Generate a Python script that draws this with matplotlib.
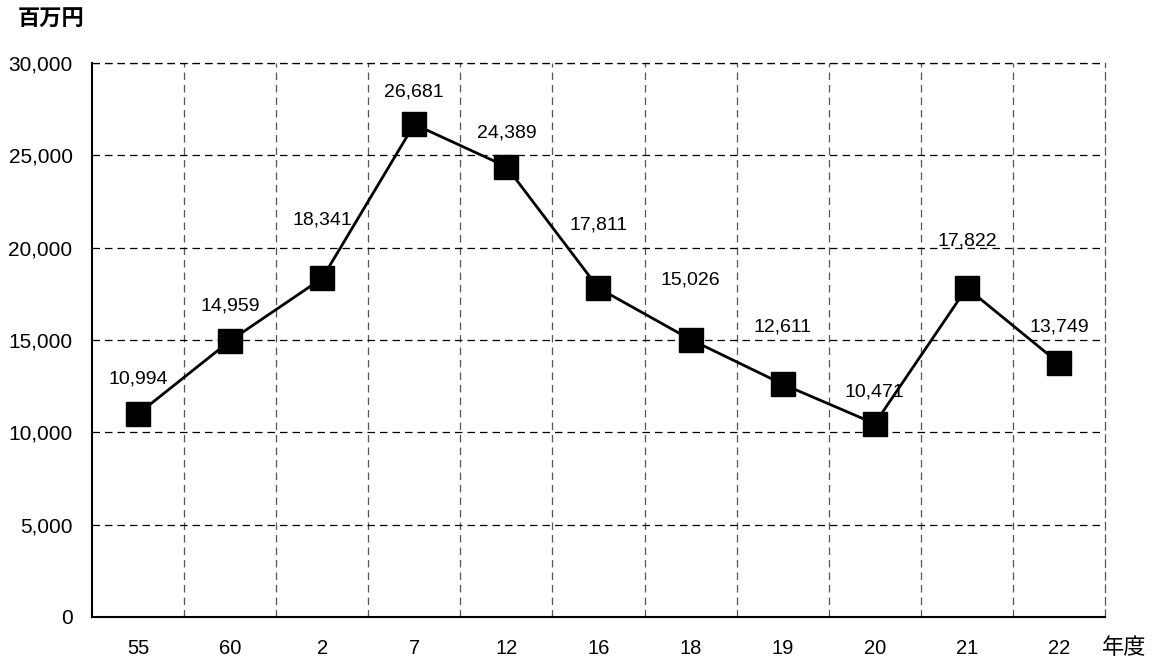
import numpy as np
import matplotlib.pyplot as plt
from matplotlib.ticker import FuncFormatter

plt.rcParams['font.family'] = ['Liberation Sans', 'Noto Sans CJK JP']

years = ['55', '60', '2', '7', '12', '16', '18', '19', '20', '21', '22']
values = [10994, 14959, 18341, 26681, 24389, 17811, 15026, 12611, 10471, 17822, 13749]
# label offsets above the markers, in points
label_dy = [19, 19, 36, 17, 18, 39, 37, 35, 17, 28, 20]

fig = plt.figure(figsize=(11.58, 6.62), dpi=100)
ax = fig.add_axes([0.0794, 0.068, 0.8748, 0.8368])

x = np.arange(len(years))
ax.plot(x, values, color='black', lw=2, marker='s', ms=17,
        markerfacecolor='black', markeredgecolor='black', zorder=3)

for xi, v, dy in zip(x, values, label_dy):
    ax.annotate(f'{v:,}', (xi, v), xytext=(0, dy), textcoords='offset points',
                ha='center', va='bottom', fontsize=14)

ax.set_xlim(-0.5, len(years) - 0.5)
ax.set_ylim(0, 30000)
ax.set_yticks(np.arange(0, 30001, 5000))
ax.yaxis.set_major_formatter(FuncFormatter(lambda v, p: f'{int(v):,}'))
ax.set_xticks(x)
ax.set_xticklabels(years, fontsize=14.5)
ax.set_xticks(np.arange(0.5, len(years) - 0.5, 1), minor=True)
ax.tick_params(axis='both', which='both', length=0)
ax.tick_params(axis='y', pad=14, labelsize=15)
ax.tick_params(axis='x', pad=16)

ax.grid(True, axis='y', which='major', ls=(0, (6, 4)), color='black', lw=0.9)
ax.grid(True, axis='x', which='minor', ls=(0, (6, 4)), color='#555555', lw=0.9)
ax.grid(False, axis='x', which='major')

for s in ['left', 'bottom']:
    ax.spines[s].set_linewidth(1.5)
ax.spines['top'].set_visible(False)
ax.spines['right'].set_linestyle((0, (6, 4)))
ax.spines['right'].set_color('#555555')
ax.spines['right'].set_linewidth(0.9)
ax.axhline(30000, ls=(0, (6, 4)), color='black', lw=0.9, clip_on=False)

fig.text(0.015, 0.97, '百万円', fontsize=16, ha='left', va='center', weight='bold')
fig.text(0.9516, 0.021, '年度', fontsize=16, ha='left', va='center')

fig.savefig('out.png', dpi=100)
